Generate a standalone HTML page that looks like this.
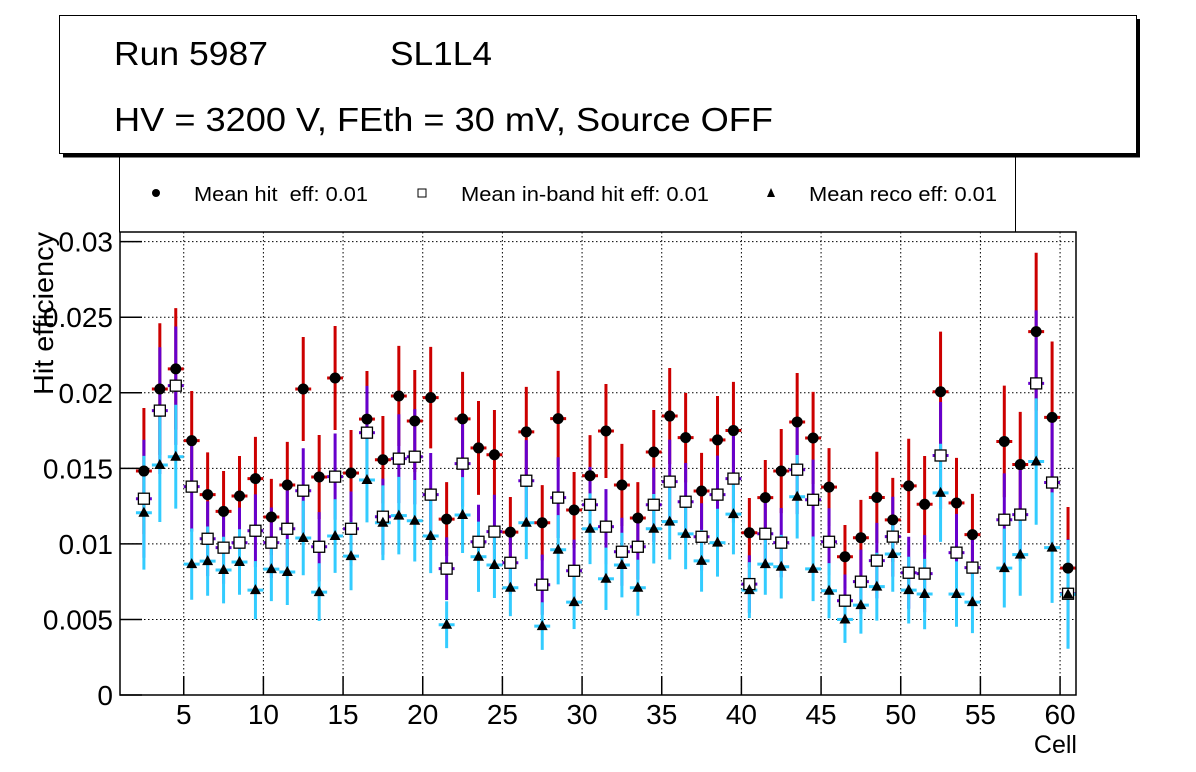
<!DOCTYPE html>
<html><head><meta charset="utf-8"><style>
html,body{margin:0;padding:0;background:#fff;}
svg{display:block;font-family:"Liberation Sans",Arial,sans-serif;}
text{white-space:pre;}
</style></head><body>
<svg id="c" width="1196" height="772" viewBox="0 0 1196 772">
<g>
<rect x="63" y="19" width="1077" height="138" fill="#000"/>
<rect x="59.5" y="15.5" width="1077" height="138" fill="#fff" stroke="#000" stroke-width="1"/>
<text x="114" y="65" font-size="33" textLength="154" lengthAdjust="spacingAndGlyphs">Run 5987</text>
<text x="390" y="65" font-size="33" textLength="102" lengthAdjust="spacingAndGlyphs">SL1L4</text>
<text x="114" y="131" font-size="33" textLength="659" lengthAdjust="spacingAndGlyphs">HV = 3200 V, FEth = 30 mV, Source OFF</text>
</g>
<g>
<rect x="119.5" y="157" width="896" height="75" fill="#fff" stroke="#000" stroke-width="1"/>
<rect x="63" y="153.5" width="1077" height="4" fill="#000"/>
<circle cx="156" cy="193" r="4" fill="#000"/>
<text x="194" y="201" font-size="20" textLength="174" lengthAdjust="spacingAndGlyphs" xml:space="preserve">Mean hit  eff: 0.01</text>
<rect x="418" y="189" width="8" height="8" fill="#fff" stroke="#000"/>
<text x="461" y="201" font-size="20" textLength="248" lengthAdjust="spacingAndGlyphs">Mean in-band hit eff: 0.01</text>
<path d="M771 188 L775 197 L767 197 Z" fill="#000"/>
<text x="809" y="201" font-size="20" textLength="188" lengthAdjust="spacingAndGlyphs">Mean reco eff: 0.01</text>
</g>
<g id="grid"></g>
<g id="axes"></g>
<g id="marks"></g>
<rect x="120" y="232" width="956" height="463" fill="none" stroke="#000" stroke-width="1.5"/>
<text transform="translate(53,232) rotate(-90)" text-anchor="end" font-size="28" textLength="163" lengthAdjust="spacingAndGlyphs">Hit efficiency</text>
<text x="1077" y="753" text-anchor="end" font-size="25">Cell</text>
</svg>
<script>
const cells = [2,3,4,5,6,7,8,9,10,11,12,13,14,15,16,17,18,19,20,21,22,23,24,25,26,27,28,29,30,31,32,33,34,35,36,37,38,39,40,41,42,43,44,45,46,47,48,49,50,51,52,53,54,55,56,57,58,59,60];
const hitEff = [0.01482,0.02025,0.02158,0.01683,0.01326,0.01215,0.01317,0.01432,0.01178,0.0139,0.02025,0.01443,0.02098,0.01469,0.01826,0.01557,0.01979,0.01813,0.01968,0.01164,0.01827,0.01635,0.0159,0.01078,0.01741,0.0114,0.01829,0.01224,0.01451,0.01747,0.0139,0.01171,0.01608,0.01846,0.01703,0.0135,0.01688,0.0175,0.01074,0.01306,0.01482,0.01807,0.01701,0.01376,0.00915,0.01041,0.01307,0.01159,0.01384,0.01262,0.02007,0.01271,0.01061,null,0.01678,0.01525,0.02405,0.01837,0.0084];
const hitErr = [0.00417,0.00435,0.00402,0.00329,0.0028,0.00267,0.00265,0.00276,0.00252,0.00285,0.00344,0.00278,0.00344,0.00285,0.00318,0.00289,0.00331,0.00338,0.00336,0.00245,0.00311,0.00311,0.00296,0.00232,0.00298,0.00249,0.00316,0.00252,0.00269,0.00311,0.00272,0.00238,0.00278,0.00318,0.00296,0.00252,0.00291,0.00322,0.0023,0.00249,0.00278,0.00324,0.00305,0.00258,0.0021,0.0025,0.00303,0.00278,0.00312,0.0032,0.00398,0.00298,0.0027,null,0.00369,0.00349,0.00522,0.00502,0.00404];
const inbandEff = [0.01299,0.01882,0.02047,0.01379,0.01034,0.00975,0.01008,0.01087,0.01008,0.011,0.01352,0.00981,0.01445,0.011,0.01736,0.0118,0.01564,0.01577,0.01326,0.00836,0.01531,0.01014,0.01081,0.00875,0.01418,0.0073,0.01306,0.00822,0.01259,0.01114,0.00948,0.00981,0.01259,0.01412,0.01279,0.01047,0.01326,0.01432,0.00734,0.01067,0.01008,0.01491,0.01292,0.01014,0.00624,0.0075,0.00889,0.01048,0.00809,0.00803,0.01585,0.00942,0.00843,null,0.0116,0.01194,0.02062,0.01406,0.0067];
const recoEff = [0.01206,0.01522,0.01577,0.00866,0.00886,0.00827,0.0088,0.00694,0.00833,0.00814,0.01039,0.00681,0.01052,0.00919,0.01423,0.0114,0.01187,0.01153,0.01052,0.00465,0.01191,0.00915,0.0086,0.0071,0.0114,0.00456,0.00961,0.00615,0.011,0.00769,0.0086,0.0071,0.011,0.01147,0.01066,0.00888,0.01008,0.01197,0.00694,0.00866,0.00849,0.01312,0.00835,0.0069,0.005,0.00595,0.00717,0.00933,0.00694,0.00668,0.01338,0.00668,0.00615,null,0.0084,0.00929,0.01545,0.00975,0.00666];
const yTicks = [0,0.005,0.01,0.015,0.02,0.025,0.03];
const yTickLabels = ["0","0.005","0.01","0.015","0.02","0.025","0.03"];
const xTicks = [5,10,15,20,25,30,35,40,45,50,55,60];

const NS = "http://www.w3.org/2000/svg";
const X0 = 120, X1 = 1076, Y0 = 695, Y1 = 232;
const xMin = 1, xMax = 61, yMin = 0, yMax = 0.03064;
function xs(v){ return X0 + (v - xMin) / (xMax - xMin) * (X1 - X0); }
function ys(v){ return Y0 - (v - yMin) / (yMax - yMin) * (Y0 - Y1); }
function mk(tag, attrs, parent){ const e = document.createElementNS(NS, tag); for (const k in attrs) e.setAttribute(k, attrs[k]); parent.appendChild(e); return e; }
const grid = document.getElementById('grid'), axes = document.getElementById('axes'), marks = document.getElementById('marks');

yTicks.forEach((t, i) => {
  const y = ys(t);
  if (t > 0) {
    const g = mk('line', {x1:X0, x2:X1, y1:y, y2:y, stroke:'#000', 'stroke-width':1, 'stroke-dasharray':'1.5,2.5'}, grid);
    
    
  }
  const tk = mk('line', {x1:X0, x2:X0 + 22, y1:y, y2:y, stroke:'#000', 'stroke-width':1.5}, axes);
  
  
  const lb = mk('text', {x:113, y:y + 10, 'text-anchor':'end', 'font-size':28}, axes);
  lb.textContent = yTickLabels[i];
  
  
});
xTicks.forEach(t => {
  const x = xs(t);
  const g = mk('line', {x1:x, x2:x, y1:Y1, y2:Y0, stroke:'#000', 'stroke-width':1, 'stroke-dasharray':'1.5,2.5'}, grid);
  
  
  const tk = mk('line', {x1:x, x2:x, y1:Y0, y2:Y0 - 19, stroke:'#000', 'stroke-width':1.5}, axes);
  
  
  const lb = mk('text', {x:x, y:724, 'text-anchor':'middle', 'font-size':28}, axes);
  lb.textContent = String(t);
  
  
});

const series = [
  {vals: hitEff, color: '#cc0000', kind: 'hit'},
  {vals: inbandEff, color: '#6600cc', kind: 'inband'},
  {vals: recoEff, color: '#33ccff', kind: 'reco'}
];
series.forEach(s => {
  cells.forEach((c, i) => {
    const v = s.vals[i];
    if (v == null) return;
    const k = hitErr[i] / Math.sqrt(hitEff[i]);
    const e = k * Math.sqrt(v);
    const x = xs(c + 0.5);
    const xl = Math.max(X0, xs(c)), xr = Math.min(X1, xs(c + 1));
    const g = mk('g', {stroke: s.color, 'stroke-width': 3}, marks);
    
    
    mk('line', {x1:x, x2:x, y1:ys(v + e), y2:Math.min(Y0, ys(v - e))}, g);
    mk('line', {x1:xl, x2:xr, y1:ys(v), y2:ys(v)}, g);
  });
});
cells.forEach((c, i) => {
  const x = xs(c + 0.5);
  if (hitEff[i] != null) {
    const m = mk('circle', {cx:x, cy:ys(hitEff[i]), r:5.5, fill:'#000'}, marks);
    
    
  }
  if (inbandEff[i] != null) {
    const y = ys(inbandEff[i]);
    const m = mk('rect', {x:x - 5.5, y:y - 5.5, width:11, height:11, fill:'#fff', stroke:'#000', 'stroke-width':1.3}, marks);
    
    
  }
  if (recoEff[i] != null) {
    const y = ys(recoEff[i]);
    const m = mk('path', {d:`M${x} ${y - 6} L${x + 5.5} ${y + 4} L${x - 5.5} ${y + 4} Z`, fill:'#000'}, marks);
    
    
  }
});
</script>
</body></html>
